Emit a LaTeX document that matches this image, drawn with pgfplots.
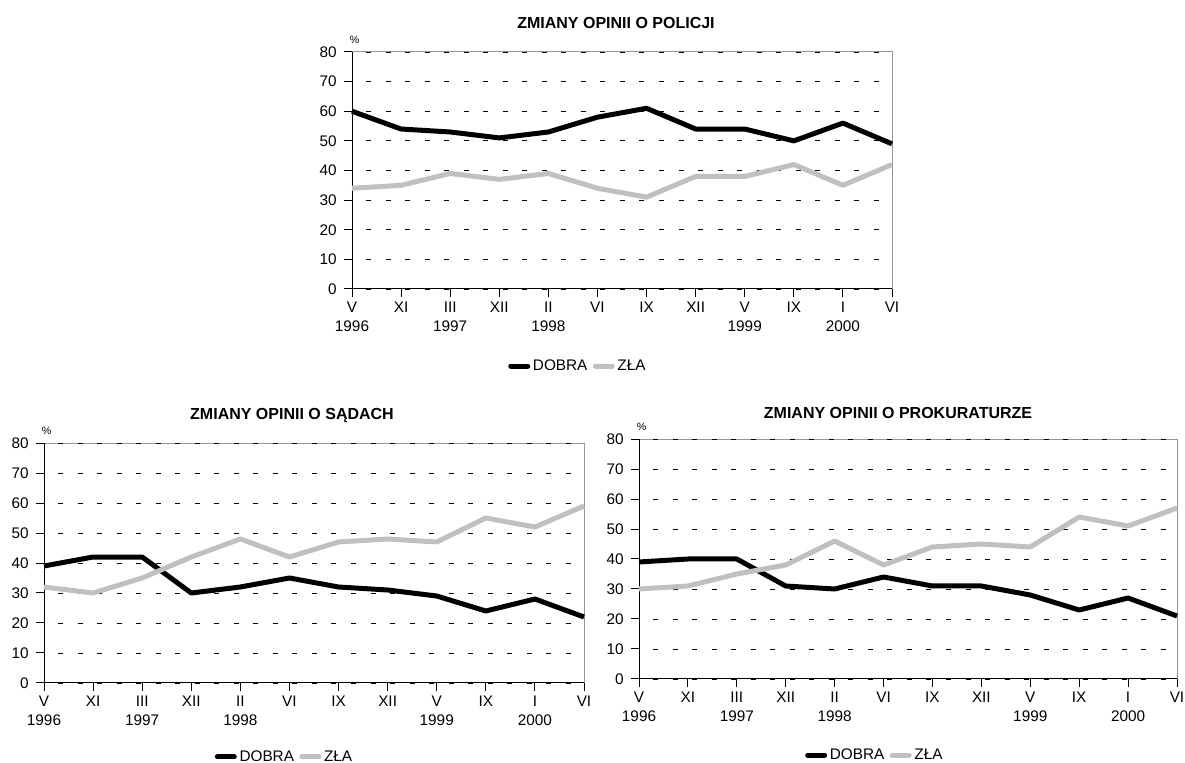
\documentclass[border=0pt]{standalone}
\usepackage{fontspec}
\setmainfont{Liberation Sans}
\usepackage{pgfplots}
\pgfplotsset{compat=1.18}

\definecolor{zla}{RGB}{192,192,192}
\definecolor{ramka}{RGB}{150,150,150}

% wspolny wyglad trzech wykresow
\pgfplotsset{
  opinia/.style={
    scale only axis,
    xmin=0, xmax=11, ymin=0, ymax=80,
    xtick={0,...,11},
    xticklabels={V\\1996, XI, III\\1997, XII, II\\1998, VI, IX, XII, V\\1999, IX, I\\2000, VI},
    ytick={0,10,...,80},
    ymajorgrids,
    grid style={black, line width=0.6pt, dash pattern=on 3.75pt off 10.9pt, dash phase=4.15pt},
    axis line style={draw=ramka, line width=0.75pt},
    tick style={black, line width=0.75pt},
    tick align=outside,
    major tick length=6pt,
    xtick pos=bottom, ytick pos=left,
    tick label style={font=\fontsize{11.5}{14.5}\selectfont},
    xticklabel style={align=center},
    yticklabel style={xshift=-2pt},
    /pgf/number format/assume math mode=true,
    clip=false,
    legend columns=-1,
    legend style={draw=none, fill=none, anchor=center, font=\fontsize{11.5}{14}\selectfont,
      /tikz/every even column/.append style={column sep=2pt}},
    legend image code/.code={\draw[#1, line cap=round] (0pt,0pt) -- (12.75pt,0pt);},
    every axis plot/.append style={line width=3.75pt, line join=round},
  },
}

\newcommand{\ramka}{%
  \draw[black, line width=0.75pt] (rel axis cs:0,1) -- (rel axis cs:0,0) -- (rel axis cs:1,0);
  \draw[black, line width=0.6pt, dash pattern=on 3.75pt off 10.9pt, dash phase=4.15pt]
    (rel axis cs:0,1) -- (rel axis cs:1,1);
  \node[font=\fontsize{8}{9}\selectfont, anchor=south] at ([xshift=2pt,yshift=3pt]rel axis cs:0,1) {\%};
}

\begin{document}
\begin{tikzpicture}
\path[use as bounding box] (0pt,0pt) rectangle (888.75pt,-572.25pt);

% policja
\begin{axis}[opinia, at={(264pt,-39pt)}, anchor=north west, width=405pt, height=177.75pt,
  legend style={at={(0.419,-0.325)}}]
  \ramka
  \addplot[black] coordinates {(0,60) (1,54) (2,53) (3,51) (4,53) (5,58) (6,61) (7,54) (8,54) (9,50) (10,56) (11,49)};
  \addplot[zla] coordinates {(0,34) (1,35) (2,39) (3,37) (4,39) (5,34) (6,31) (7,38) (8,38) (9,42) (10,35) (11,42)};
  \legend{DOBRA, ZŁA}
\end{axis}
\node[font=\bfseries\fontsize{12}{14}\selectfont] at (462pt,-17.25pt) {ZMIANY OPINII O POLICJI};

% sady
\begin{axis}[opinia, at={(33pt,-332.25pt)}, anchor=north west, width=405pt, height=180pt,
  legend style={at={(0.446,-0.308)}}]
  \ramka
  \addplot[black] coordinates {(0,39) (1,42) (2,42) (3,30) (4,32) (5,35) (6,32) (7,31) (8,29) (9,24) (10,28) (11,22)};
  \addplot[zla] coordinates {(0,32) (1,30) (2,35) (3,42) (4,48) (5,42) (6,47) (7,48) (8,47) (9,55) (10,52) (11,59)};
  \legend{DOBRA, ZŁA}
\end{axis}
\node[font=\bfseries\fontsize{12}{14}\selectfont] at (219pt,-312pt) {ZMIANY OPINII O SĄDACH};

% prokuratura
\begin{axis}[opinia, at={(479.25pt,-329.25pt)}, anchor=north west, width=403.5pt, height=180pt,
  legend style={at={(0.439,-0.317)}}]
  \ramka
  \addplot[black] coordinates {(0,39) (1,40) (2,40) (3,31) (4,30) (5,34) (6,31) (7,31) (8,28) (9,23) (10,27) (11,21)};
  \addplot[zla] coordinates {(0,30) (1,31) (2,35) (3,38) (4,46) (5,38) (6,44) (7,45) (8,44) (9,54) (10,51) (11,57)};
  \legend{DOBRA, ZŁA}
\end{axis}
\node[font=\bfseries\fontsize{12}{14}\selectfont] at (673.5pt,-309.75pt) {ZMIANY OPINII O PROKURATURZE};
\end{tikzpicture}
\end{document}
